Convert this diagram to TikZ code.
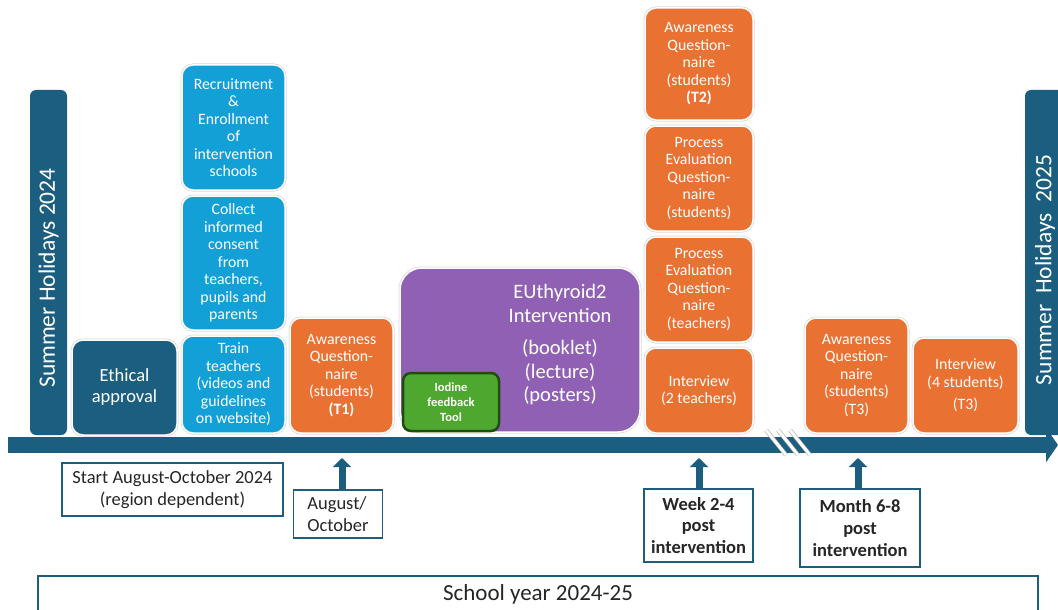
\documentclass[tikz,border=0pt]{standalone}
\usepackage{fontspec}
\setmainfont{Carlito}
\usetikzlibrary{positioning,arrows.meta}
\definecolor{darkteal}{HTML}{1B5E80}
\definecolor{prepblue}{HTML}{12A0D7}
\definecolor{evalorange}{HTML}{E97132}
\definecolor{intpurple}{HTML}{9060B5}
\definecolor{toolgreen}{HTML}{4EA72E}
\definecolor{tooldark}{HTML}{1E4D13}
\definecolor{labeltext}{HTML}{262626}

\begin{document}
\begin{tikzpicture}[x=1pt,y=-1pt,
  box/.style={rounded corners=11pt,text=white,align=center,inner sep=1pt,
    font=\fontsize{15.8}{17.5}\selectfont,
    preaction={draw=black!15,line width=3pt},draw=white,line width=1.5pt},
  prep/.style={box,fill=prepblue,minimum width=103pt},
  evalq/.style={box,fill=evalorange},
  holiday/.style={fill=darkteal,rounded corners=6pt,minimum width=37pt,minimum height=345pt},
  holidaytext/.style={rotate=90,text=white,font=\fontsize{23.5}{23.5}\selectfont},
  when/.style={draw=darkteal,line width=1.5pt,fill=white,text=labeltext,align=center,
    font=\fontsize{18.5}{21.7}\selectfont,inner sep=2pt},
  whenbold/.style={when,font=\bfseries\fontsize{18.5}{21.7}\selectfont},
  uparrow/.style={draw=darkteal,line width=7pt,-{Triangle[width=18pt,length=9pt]}}]
\useasboundingbox (0,0) rectangle (1058,610);

\node[holiday] (hol1) at (48.5,262.5) {};
\node[holidaytext] (hol1text) at (48.5,278) {Summer Holidays 2024};
\node[holiday,minimum width=42pt] (hol2) at (1046,262.5) {};
\node[holidaytext] (hol2text) at (1045,270) {Summer~~Holidays~~2025};

\node[box,fill=darkteal,minimum width=105pt,minimum height=95pt,
  font=\fontsize{18.5}{21}\selectfont] (ethics) at (124.5,387.5) {Ethical\\approval};

\node[prep,minimum height=97pt] (train) at (233.5,384.5) {Train\\teachers\\(videos and\\guidelines\\on website)};
\node[prep,minimum height=134pt,above=4.5pt of train] (consent) {Collect\\informed\\consent\\from\\teachers,\\pupils and\\parents};
\node[prep,minimum height=125pt,above=4.5pt of consent] (recruit) {Recruitment\\\&\\Enrollment\\of\\intervention\\schools};

\node[evalq,minimum width=103pt,minimum height=115pt] (t1) at (341.5,375.5) {Awareness\\Question-\\naire\\(students)\\\textbf{(T1)}};

\node[box,fill=intpurple,rounded corners=22pt,minimum width=240pt,minimum height=164pt] (intervention) at (520,350) {};
\node[text=white,align=center,font=\fontsize{20.5}{23.5}\selectfont] (intervtext) at (560,345) {EUthyroid2\\Intervention\\[9pt](booklet)\\(lecture)\\(posters)};
\node[rounded corners=8pt,fill=toolgreen,draw=tooldark,line width=2.5pt,minimum width=96pt,minimum height=58pt,
  text=white,align=center,font=\bfseries\fontsize{12.5}{15}\selectfont] (tool) at (451,402) {Iodine\\feedback\\Tool};

\node[evalq,minimum width=108pt,minimum height=85pt] (int2) at (699,390.5) {Interview\\(2 teachers)};
\node[evalq,minimum width=108pt,minimum height=105pt,above=4.5pt of int2] (pet) {Process\\Evaluation\\Question-\\naire\\(teachers)};
\node[evalq,minimum width=108pt,minimum height=105pt,above=4.5pt of pet] (pes) {Process\\Evaluation\\Question-\\naire\\(students)};
\node[evalq,minimum width=108pt,minimum height=112pt,above=4.5pt of pes] (t2) {Awareness\\Question-\\naire\\(students)\\\textbf{(T2)}};

\node[evalq,minimum width=103pt,minimum height=115pt] (t3) at (856.5,375.5) {Awareness\\Question-\\naire\\(students)\\(T3)};
\node[evalq,minimum width=105pt,minimum height=95pt] (int4) at (965.5,385.5) {Interview\\(4 students)\\[5pt](T3)};

\coordinate (barstart) at (8,445);
\coordinate (barend) at (1058,445);
\draw[darkteal,line width=16pt,-{Triangle[width=34pt,length=12pt]}] (barstart) -- (barend);
\foreach \i in {0,1,2}
  \draw[draw=black!35,double=white,double distance=3pt,line width=0.6pt] (766+12*\i,430) -- (786+12*\i,455);

\node[when,minimum width=221pt,minimum height=53pt] (start) at (172.5,489.5) {Start August-October 2024\\(region dependent)};
\node[when,align=left,minimum width=89pt,minimum height=48pt] (augoct) at (338,514) {August/\\October};
\node[whenbold,minimum width=109pt,minimum height=73pt] (week) at (698.5,525.5) {Week 2-4\\post\\intervention};
\node[whenbold,minimum width=120pt,minimum height=78pt] (month) at (860,528) {Month 6-8\\post\\intervention};
\node[when,anchor=north,minimum width=1000pt,minimum height=38pt,font=\fontsize{23}{23}\selectfont] (schoolyear) at (538,575) {School year 2024-25};

\coordinate (t1mark) at (342,458);
\coordinate (t2mark) at (699,458);
\coordinate (t3mark) at (858,458);
\draw[uparrow] (t1mark |- augoct.north) -- (t1mark);
\draw[uparrow] (t2mark |- week.north) -- (t2mark);
\draw[uparrow] (t3mark |- month.north) -- (t3mark);
\end{tikzpicture}
\end{document}
